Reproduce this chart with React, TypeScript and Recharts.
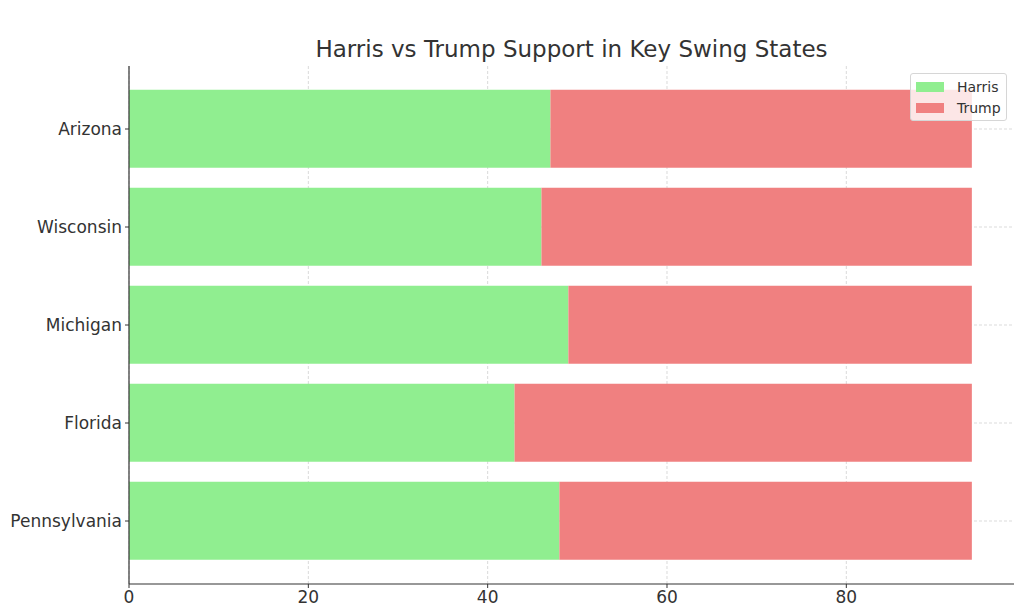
import React from 'react';
import { BarChart, Bar, XAxis, YAxis, CartesianGrid } from 'recharts';

const states = ['Arizona', 'Wisconsin', 'Michigan', 'Florida', 'Pennsylvania'];
const harris = [47, 46, 49, 43, 48];
const trump = [47, 48, 45, 51, 46];
const xTicks = [0, 20, 40, 60, 80];

const data = states.map((state, i) => ({ state, Harris: harris[i], Trump: trump[i] }));

const series = [
  { key: 'Harris', color: '#90EE90' },
  { key: 'Trump', color: '#F08080' },
];

const FONT = '"DejaVu Sans", sans-serif';

const applyScale = (scale: any, v: any) =>
  typeof scale === 'function' ? scale(v) : scale.map ? scale.map(v) : scale.apply(v);

const bandOf = (scale: any) =>
  typeof scale.bandwidth === 'function' ? scale.bandwidth() : 0;

// grid only at the real ticks (no lines along the plot edges)
const verticalLines = ({ xAxis }: any) => xTicks.map((t) => applyScale(xAxis.scale, t));
const horizontalLines = ({ yAxis }: any) =>
  states.map((s) => applyScale(yAxis.scale, s) + bandOf(yAxis.scale) / 2);

// legend drawn outside recharts so it doesn't eat plot space
const LegendBox = () => (
  <div
    style={{
      position: 'absolute',
      left: 910,
      top: 73,
      width: 97,
      height: 48,
      boxSizing: 'border-box',
      background: 'rgba(255,255,255,0.8)',
      border: '1px solid #d6d6d6',
      borderRadius: 3,
      padding: '2px 0 0 5px',
      fontFamily: FONT,
      fontSize: 14,
      color: '#333',
    }}
  >
    {series.map((s) => (
      <div key={s.key} style={{ display: 'flex', alignItems: 'center', height: 21 }}>
        <span style={{ width: 28, height: 10, background: s.color, marginRight: 13 }} />
        <span>{s.key}</span>
      </div>
    ))}
  </div>
);

const App: React.FC = () => {
  return (
    <div style={{ position: 'absolute', left: 0, top: 0, width: 1024, height: 610, background: '#fff' }}>
      <div
        style={{
          position: 'absolute',
          left: 129,
          width: 885,
          top: 36,
          textAlign: 'center',
          fontFamily: FONT,
          fontSize: 23,
          color: '#333',
        }}
      >
        Harris vs Trump Support in Key Swing States
      </div>
      <BarChart
        width={1024}
        height={610}
        data={data}
        layout="vertical"
        margin={{ top: 66, right: 10, bottom: 0, left: 0 }}
        barCategoryGap="10%"
      >
        <XAxis
          type="number"
          domain={[0, 98.7]}
          ticks={xTicks}
          height={26}
          tickSize={4}
          tickMargin={3}
          axisLine={{ stroke: '#333', strokeWidth: 1.2 }}
          tickLine={{ stroke: '#333' }}
          tick={{ fill: '#333', fontSize: 17, fontFamily: FONT }}
        />
        <YAxis
          type="category"
          dataKey="state"
          width={129}
          padding={{ top: 14, bottom: 14 }}
          tickSize={4}
          tickMargin={3}
          axisLine={{ stroke: '#333', strokeWidth: 1.2 }}
          tickLine={{ stroke: '#333' }}
          tick={{ fill: '#333', fontSize: 17, fontFamily: FONT }}
        />
        {series.map((s) => (
          <Bar key={s.key} dataKey={s.key} stackId="a" fill={s.color} isAnimationActive={false} />
        ))}
        <CartesianGrid
          stroke="#b0b0b0"
          strokeOpacity={0.6}
          strokeDasharray="3 2"
          strokeWidth={0.8}
          verticalCoordinatesGenerator={verticalLines}
          horizontalCoordinatesGenerator={horizontalLines}
        />
      </BarChart>
      <LegendBox />
    </div>
  );
};

export default App;
